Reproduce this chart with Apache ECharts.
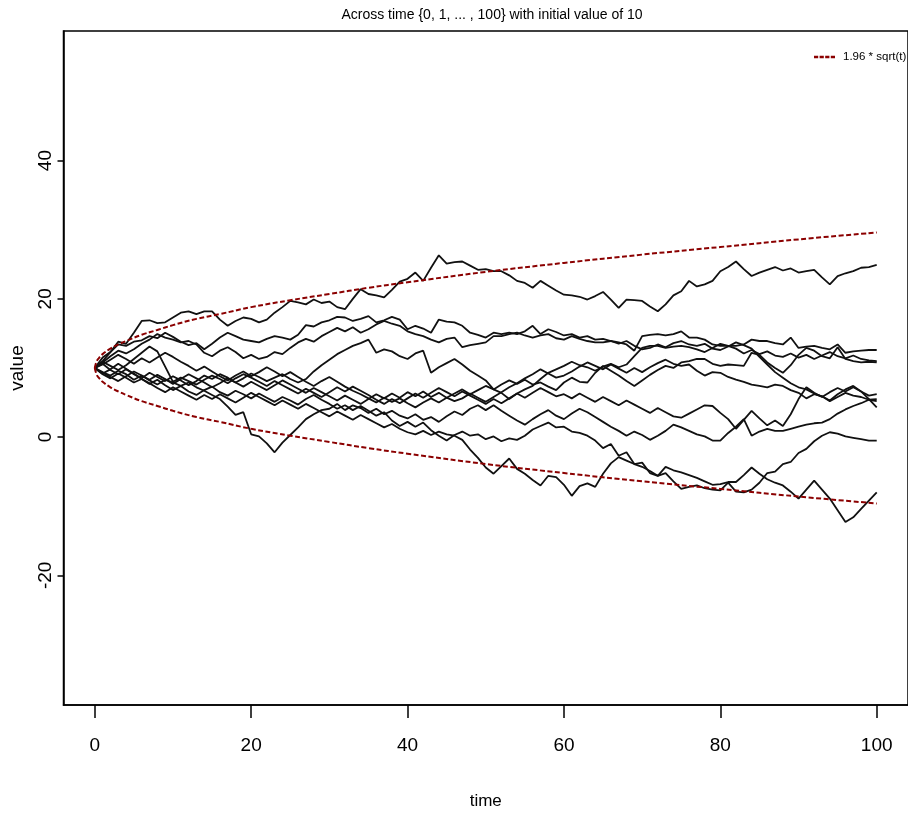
<!DOCTYPE html>
<html>
<head>
<meta charset="utf-8">
<title>Across time</title>
<script src="https://cdn.jsdelivr.net/npm/echarts@6/dist/echarts.min.js"></script>
<style>
html, body { margin: 0; padding: 0; background: #fff; }
#chart { width: 908px; height: 815px; }
</style>
</head>
<body>
<div id="chart"></div>
<script>
// ten random walks, one value per time step 0..100
var walkA = [10, 11.5, 12.3, 13.8, 13.5, 15.1, 16.8, 16.9, 16.5, 16.6,
  17.3, 18.0, 18.2, 17.8, 18.2, 18.2, 17.0, 16.1, 16.8, 17.3,
  17.1, 16.6, 17.0, 18.0, 18.8, 19.7, 19.5, 19.2, 19.9, 19.4,
  19.6, 18.8, 18.5, 20.0, 21.4, 20.7, 20.5, 20.2, 21.3, 22.5,
  22.9, 23.8, 22.6, 24.5, 26.3, 25.1, 25.3, 25.4, 24.8, 24.2,
  24.3, 24.0, 24.0, 23.4, 22.6, 22.3, 21.6, 22.6, 21.9, 21.2,
  20.6, 20.5, 20.3, 19.9, 20.4, 21.0, 19.9, 18.7, 19.9, 19.8,
  19.7, 18.9, 18.2, 19.2, 20.5, 21.1, 22.6, 21.8, 22.1, 22.6,
  24.0, 24.6, 25.4, 24.3, 23.3, 23.8, 24.2, 24.6, 24.1, 24.4,
  23.8, 24.0, 24.2, 23.1, 22.1, 23.3, 23.7, 24.0, 24.5, 24.6,
  24.9];
var walkB = [10, 11.0, 12.3, 13.4, 13.2, 13.8, 14.0, 14.6, 14.3, 15.1,
  14.5, 13.8, 13.3, 13.6, 12.7, 13.5, 14.4, 15.1, 14.6, 14.1,
  13.9, 13.7, 14.2, 14.6, 14.4, 14.1, 14.8, 16.2, 16.0, 16.6,
  16.9, 17.4, 17.3, 16.8, 17.1, 17.5, 16.6, 16.9, 17.4, 17.0,
  15.6, 16.1, 15.7, 15.1, 17.0, 16.7, 16.6, 16.1, 15.1, 14.8,
  14.4, 15.1, 14.9, 15.1, 14.9, 15.3, 16.1, 14.9, 15.6, 15.2,
  14.7, 14.9, 14.4, 14.6, 14.1, 14.2, 13.9, 13.7, 13.4, 12.5,
  14.6, 14.8, 14.9, 14.7, 14.9, 15.3, 14.4, 14.4, 14.1, 13.4,
  13.2, 13.2, 13.2, 13.4, 14.1, 13.9, 13.9, 13.6, 13.4, 14.4,
  12.9, 13.1, 13.2, 12.9, 12.7, 13.4, 12.2, 12.4, 12.5, 12.6,
  12.6];
var walkC = [10, 10.8, 11.7, 12.5, 12.1, 12.7, 13.5, 14.1, 14.9, 14.4,
  14.1, 13.7, 13.9, 13.4, 12.2, 11.7, 12.5, 13.0, 12.3, 11.4,
  11.9, 11.3, 11.6, 12.3, 12.0, 12.9, 13.7, 14.2, 13.8, 14.6,
  15.2, 15.8, 15.3, 15.9, 15.1, 15.6, 16.3, 16.8, 16.4, 16.1,
  15.3, 14.9, 14.6, 14.1, 13.7, 14.2, 14.4, 13.0, 13.3, 13.5,
  13.7, 14.6, 14.6, 14.9, 15.1, 14.7, 14.4, 14.7, 14.9, 14.3,
  14.1, 14.6, 14.2, 13.9, 13.7, 13.7, 13.9, 13.5, 13.9, 13.2,
  12.7, 12.9, 13.4, 13.0, 13.6, 13.9, 13.4, 13.2, 13.5, 12.8,
  12.6, 13.1, 13.7, 13.3, 12.8, 11.6, 10.5, 9.4, 8.6, 7.8,
  7.2, 6.9, 6.3, 5.9, 5.3, 6.2, 6.9, 7.4, 6.6, 5.5,
  4.3];
var walkD = [10, 9.2, 9.8, 10.6, 9.9, 9.1, 8.5, 9.3, 8.7, 8.1,
  8.8, 8.2, 7.5, 8.1, 8.9, 8.4, 9.1, 8.6, 7.9, 8.5,
  9.2, 8.7, 8.1, 8.6, 9.1, 8.4, 7.9, 8.4, 9.5, 10.4,
  11.2, 12.0, 12.6, 13.2, 13.6, 14.1, 12.2, 12.7, 12.4, 11.7,
  11.3, 12.1, 12.5, 9.3, 10.1, 10.7, 11.3, 10.5, 9.6, 8.9,
  8.2, 6.9, 6.4, 5.5, 6.3, 6.9, 7.4, 8.4, 9.3, 9.8,
  10.3, 10.9, 10.4, 10.1, 9.6, 10.2, 10.6, 10.1, 10.5, 11.7,
  12.9, 13.2, 13.2, 12.9, 13.1, 13.2, 13.0, 12.7, 12.3, 12.9,
  13.5, 13.2, 12.8, 12.1, 12.6, 12.0, 12.4, 11.8, 11.6, 12.1,
  11.5, 11.9, 11.3, 11.8, 12.3, 11.7, 11.4, 11.8, 11.3, 11.1,
  11.0];
var walkE = [10, 9.4, 8.9, 9.6, 9.1, 8.3, 8.9, 8.2, 7.6, 8.3,
  7.9, 7.4, 7.9, 7.2, 6.7, 6.1, 5.5, 4.4, 3.2, 3.6,
  0.4, 0.1, -0.9, -2.2, -0.8, 0.3, 1.4, 2.6, 3.3, 3.9,
  4.1, 4.8, 3.9, 4.6, 4.2, 3.5, 4.1, 3.3, 3.8, 3.1,
  2.7, 3.3, 2.5, 2.9, 2.2, 3.0, 3.7, 3.2, 4.1, 4.6,
  3.9, 4.6, 3.8, 3.1, 2.4, 1.8, 2.6, 3.3, 3.9, 3.1,
  2.6, 3.4, 4.1, 3.6, 2.9, 2.2, 1.5, 0.9, 0.2, 0.8,
  0.3, -0.4, 0.2, 0.9, 1.8, 1.4, 0.9, 0.4, 0.1, -0.5,
  -0.5, 0.6, 1.5, 2.6, 0.2, 0.8, 1.2, 0.9, 0.9, 1.2,
  1.5, 1.8, 2.0, 2.1, 2.6, 3.4, 4.0, 4.5, 4.9, 5.4,
  5.2];
var walkF = [10, 9.1, 8.5, 9.2, 8.6, 7.9, 8.4, 7.8, 7.1, 6.5,
  7.2, 6.6, 6.0, 5.4, 6.1, 5.5, 6.2, 5.6, 5.0, 5.7,
  6.4, 5.8, 5.2, 4.6, 5.3, 4.7, 4.1, 4.8, 4.2, 3.6,
  3.0, 3.7, 3.1, 2.5, 3.2, 2.6, 2.0, 1.4, 1.9, 1.2,
  0.7, 0.4, 0.9, 0.3, 0.8, 0.4, 0.2, -0.4, -1.8, -3.0,
  -4.4, -5.3, -4.2, -3.1, -4.6, -5.3, -6.2, -7.0, -5.6, -5.8,
  -6.9, -8.5, -7.1, -6.7, -7.2, -5.3, -3.8, -2.9, -3.4, -3.9,
  -3.7, -5.2, -5.6, -4.3, -4.8, -5.1, -5.5, -5.9, -6.4, -6.9,
  -6.8, -6.5, -6.5, -5.5, -4.4, -5.3, -6.1, -6.6, -7.0, -7.9,
  -8.9, -7.6, -6.3, -7.6, -8.9, -10.6, -12.3, -11.6, -10.4, -9.2,
  -8.0];
var walkG = [10, 10.6, 9.7, 9.1, 9.8, 9.2, 8.4, 7.7, 8.3, 7.5,
  6.8, 7.4, 6.6, 6.1, 6.8, 7.3, 6.5, 6.0, 6.7, 6.2,
  5.6, 6.3, 5.7, 5.1, 5.8, 5.3, 4.7, 5.5, 6.1, 5.4,
  4.8, 4.1, 4.6, 3.9, 4.5, 3.8, 3.1, 3.6, 2.4, 1.6,
  2.2, 1.5, 2.1, 1.0, 0.2, -0.5, 0.3, 0.8, 0.2, 0.4,
  -0.3, 0.1, -0.6, -0.2, -0.4, 0.2, 1.1, 1.6, 2.1, 1.4,
  1.5, 0.8, 0.6, 0.2, -0.5, -1.6, -1.0, -2.7, -2.2, -3.9,
  -4.3, -4.9, -5.6, -5.2, -6.4, -7.5, -7.2, -7.0, -7.4, -7.6,
  -7.7, -6.6, -7.9, -8.0, -7.6, -6.6, -5.2, -5.0, -3.9, -3.6,
  -2.3, -1.7, -0.6, 0.2, 0.7, 0.5, 0.1, -0.1, -0.3, -0.5,
  -0.5];
var walkH = [10, 10.9, 10.3, 9.7, 10.4, 11.3, 12.2, 13.1, 12.4, 10.2,
  8.0, 8.6, 8.1, 7.6, 8.3, 8.9, 8.4, 7.8, 8.5, 9.1,
  8.6, 8.0, 7.4, 8.1, 7.5, 6.9, 6.3, 7.0, 6.4, 5.8,
  6.5, 7.2, 6.6, 7.3, 6.7, 6.1, 5.4, 4.8, 5.5, 4.9,
  5.6, 6.3, 5.7, 6.4, 7.1, 6.5, 5.9, 6.6, 6.0, 5.4,
  4.8, 5.5, 4.9, 5.6, 6.3, 5.7, 6.4, 7.1, 6.5, 5.9,
  6.2, 5.6, 6.3, 5.7, 5.1, 5.8, 5.2, 4.6, 5.3, 4.7,
  4.1, 3.5, 4.2, 3.6, 3.0, 2.8, 3.4, 4.0, 4.6, 4.5,
  3.5, 2.6, 1.2, 2.5, 3.8, 2.7, 1.7, 2.4, 1.6, 3.3,
  5.5, 7.2, 6.4, 5.8, 6.5, 7.1, 6.6, 7.2, 6.6, 6.0,
  6.2];
var walkI = [10, 9.3, 8.7, 8.1, 8.8, 9.5, 8.9, 8.3, 9.0, 8.4,
  7.7, 8.4, 9.1, 8.5, 7.9, 7.2, 7.8, 8.5, 7.9, 7.3,
  8.0, 7.4, 6.8, 7.5, 8.2, 7.6, 7.0, 6.4, 7.1, 6.5,
  5.9, 5.3, 6.0, 5.4, 4.8, 5.5, 6.2, 5.6, 6.3, 5.7,
  6.5, 5.9, 6.6, 5.8, 6.4, 5.7, 6.3, 6.9, 6.2, 6.8,
  7.4, 6.9, 7.6, 8.2, 7.7, 8.3, 7.6, 7.9, 7.3, 6.8,
  7.9, 8.6, 8.0, 7.9, 9.3, 10.3, 9.6, 8.9, 8.1, 7.4,
  8.2, 9.0, 9.7, 10.3, 10.0, 10.8, 11.0, 11.3, 11.3, 10.6,
  10.3, 10.5, 10.4, 10.3, 12.2, 11.9, 10.8, 10.0, 9.3, 10.4,
  11.9, 12.9, 12.5, 11.7, 11.4, 13.0, 11.3, 11.0, 10.8, 10.9,
  10.8];
var walkJ = [10, 10.5, 11.2, 11.9, 11.3, 10.6, 11.4, 10.8, 11.5, 12.2,
  11.6, 10.9, 10.3, 9.6, 10.2, 9.5, 8.8, 8.2, 8.9, 9.5,
  8.8, 9.4, 10.1, 9.5, 8.8, 9.4, 8.7, 8.0, 7.4, 8.1,
  8.7, 8.0, 7.3, 6.7, 6.2, 5.6, 5.0, 5.7, 5.1, 5.6,
  4.9, 4.3, 5.0, 5.6, 5.0, 5.7, 5.2, 5.6, 6.3, 5.7,
  5.1, 5.8, 6.5, 7.2, 7.8, 8.5, 9.1, 9.8, 9.2, 8.6,
  8.9, 9.5, 10.2, 10.8, 10.3, 9.8, 10.5, 9.9, 9.3, 10.0,
  9.4, 10.1, 10.7, 11.2, 10.6, 10.3, 10.5, 9.6, 8.9, 9.4,
  9.3, 8.7, 8.3, 8.0, 7.6, 7.4, 7.2, 7.6, 7.4, 6.8,
  6.4, 5.6, 6.2, 5.9, 5.2, 5.8, 6.4, 6.0, 5.8, 5.4,
  5.5];

// the dashed envelope, read at a few times
var bandT = [0, 0.25, 0.5, 1, 2, 3, 4, 6, 8, 10, 13, 16, 20, 25, 30, 35, 40, 50, 60, 70, 80, 90, 100];
var bandUpper = [10, 11.0, 11.4, 12.0, 12.8, 13.4, 13.9, 14.8, 15.5, 16.2, 17.1, 17.8, 18.8, 19.8, 20.7, 21.6, 22.4, 23.9, 25.2, 26.4, 27.5, 28.6, 29.6];
var bandLower = [10, 9.0, 8.6, 8.0, 7.2, 6.6, 6.1, 5.2, 4.5, 3.8, 2.9, 2.2, 1.2, 0.2, -0.7, -1.6, -2.4, -3.9, -5.2, -6.4, -7.5, -8.6, -9.6];

var xTicks = [0, 20, 40, 60, 80, 100];
var yTicks = [-20, 0, 20, 40];

var FONT = "'Liberation Sans', Arial, sans-serif";
var bandName = '1.96 * sqrt(t)';
var bandColor = '#8b0000';

var walks = [walkA, walkB, walkC, walkD, walkE, walkF, walkG, walkH, walkI, walkJ];
var seriesList = [];
for (var i = 0; i < walks.length; i++) {
    seriesList.push({
        type: 'line',
        data: walks[i].map(function (v, t) { return [t, v]; }),
        symbol: 'none',
        silent: true,
        lineStyle: { color: '#111', width: 1.8 },
        z: 2
    });
}
[bandUpper, bandLower].forEach(function (arr) {
    seriesList.push({
        name: bandName,
        type: 'line',
        data: arr.map(function (v, k) { return [bandT[k], v]; }),
        symbol: 'none',
        smooth: 0.4,
        silent: true,
        color: bandColor,
        lineStyle: { color: bandColor, width: 2, type: [5, 2.5] },
        z: 3
    });
});

var chart = echarts.init(document.getElementById('chart'));
var option = {
    animation: false,
    backgroundColor: '#fff',
    title: {
        text: 'Across time {0, 1, ... , 100} with initial value of 10',
        left: 487,
        top: 3,
        textAlign: 'center',
        textStyle: { fontFamily: FONT, fontSize: 14, fontWeight: 'normal', color: '#000' }
    },
    legend: {
        data: [bandName],
        left: 814,
        top: 51,
        padding: 0,
        icon: 'path://M0 0H4V1H0Z M5.33 0H9.33V1H5.33Z M10.67 0H14.67V1H10.67Z M16 0H20V1H16Z',
        symbolKeepAspect: false,
        itemWidth: 21,
        itemHeight: 2.5,
        itemStyle: { color: bandColor },
        textStyle: { fontFamily: FONT, fontSize: 11.5, color: '#000', padding: [0, 0, 0, 3] }
    },
    grid: {
        left: 63.5,
        top: 31,
        width: 847,
        height: 676,
        show: true,
        borderColor: '#000',
        borderWidth: 1.5
    },
    xAxis: {
        type: 'value',
        min: -4,
        max: 104,
        name: 'time',
        nameLocation: 'middle',
        nameGap: 88,
        nameTextStyle: { fontFamily: FONT, fontSize: 17, color: '#000' },
        axisLine: { onZero: false, lineStyle: { color: '#000', width: 1.5 } },
        axisTick: { customValues: xTicks, length: 13, lineStyle: { color: '#000', width: 1.5 } },
        axisLabel: { customValues: xTicks, margin: 31, fontFamily: FONT, fontSize: 19, color: '#000' },
        splitLine: { show: false }
    },
    yAxis: {
        type: 'value',
        min: -38.76,
        max: 58.75,
        name: 'value',
        nameLocation: 'middle',
        nameGap: 36,
        nameTextStyle: { fontFamily: FONT, fontSize: 19, color: '#000' },
        axisLine: { onZero: false, lineStyle: { color: '#000', width: 1.5 } },
        axisTick: { customValues: yTicks, length: 6, lineStyle: { color: '#000', width: 1.5 } },
        axisLabel: { customValues: yTicks, rotate: 90, margin: 8, fontFamily: FONT, fontSize: 19, color: '#000' },
        splitLine: { show: false }
    },
    series: seriesList
};
chart.setOption(option);
</script>
</body>
</html>
